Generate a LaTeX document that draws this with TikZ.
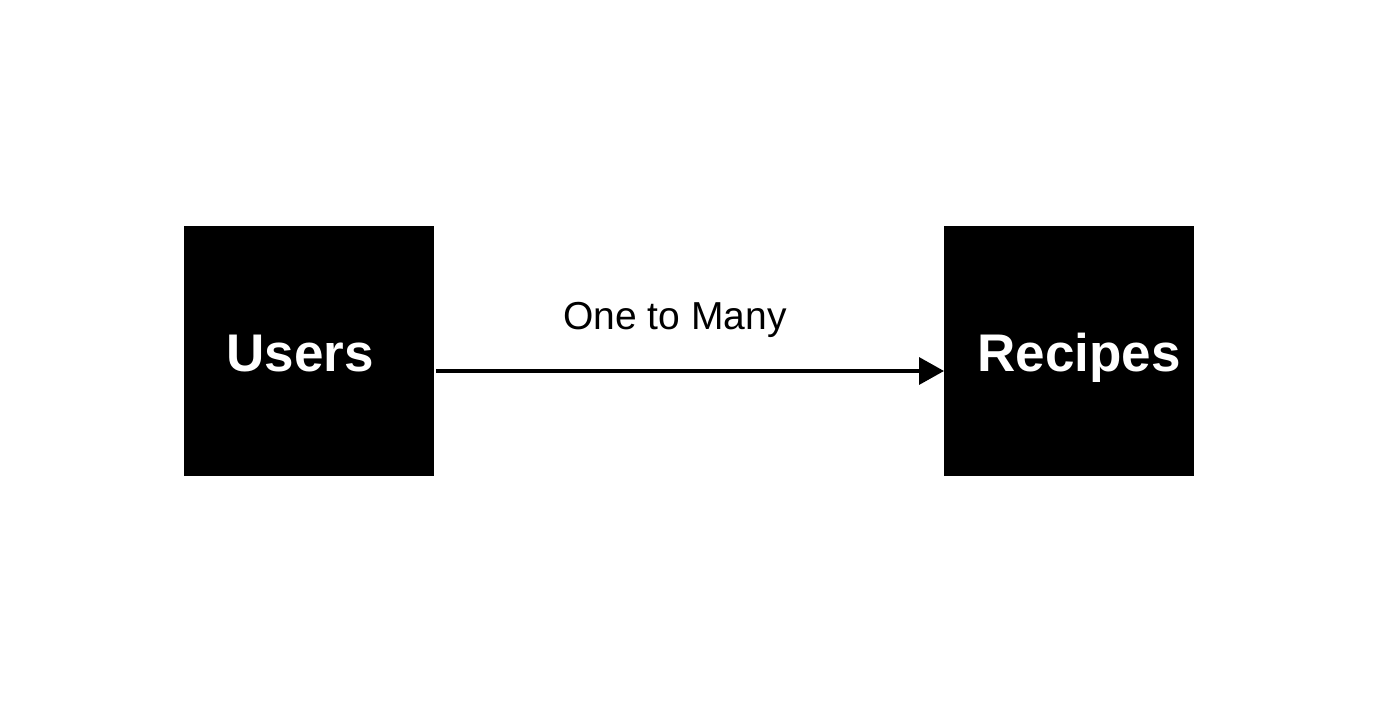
\documentclass[tikz,border=0pt]{standalone}
\usepackage{fontspec}
\setmainfont{Liberation Sans}
\usetikzlibrary{arrows.meta}
\begin{document}
\begin{tikzpicture}[x=1pt,y=-1pt,
  entity/.style={fill=black,draw=none,minimum width=250pt,minimum height=250pt,inner sep=0pt,outer sep=0pt},
  etext/.style={text=white,font=\fontsize{53}{60}\selectfont\bfseries,inner sep=0pt,anchor=base},
  rel/.style={line width=3.5pt,-{Triangle[length=25pt,width=27pt]}},
  lbl/.style={font=\fontsize{39}{44}\selectfont,inner sep=0pt,anchor=base}]
\useasboundingbox (0,0) rectangle (1387,718);
\fill[white] (0,0) rectangle (1387,718);
\node[entity] (users) at (309,351) {};
\node[entity] (recipes) at (1069,351) {};
\node[etext] (userst) at (300,371) {Users};
\node[etext] (recipest) at (1079,371) {Recipes};
\draw[rel] ([xshift=2pt,yshift=-20pt]users.east) -- ([yshift=-20pt]recipes.west);
\node[lbl] (label) at (675,329) {One to Many};
\end{tikzpicture}
\end{document}
